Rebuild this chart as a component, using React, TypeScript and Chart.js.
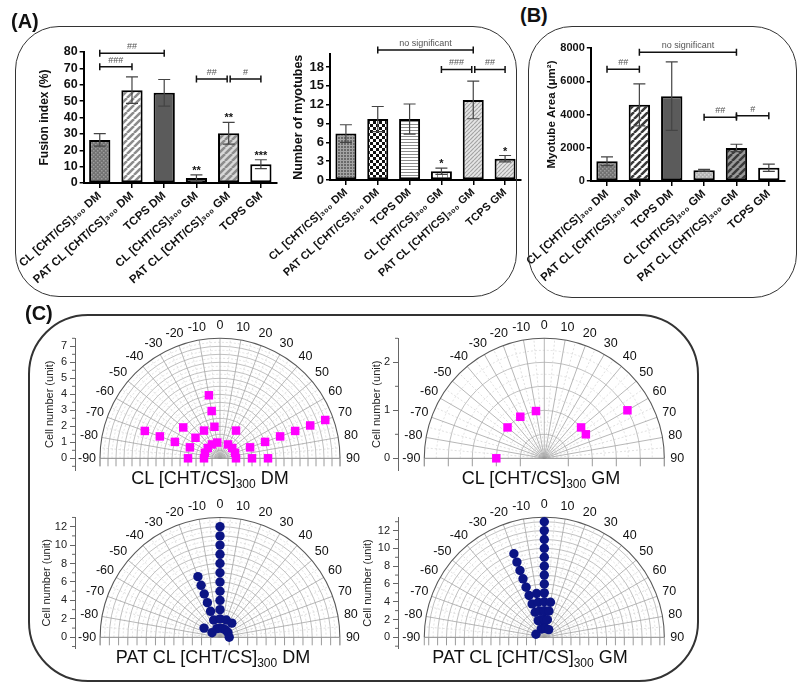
import React, { useEffect, useRef } from 'react';
import { Chart, registerables } from 'chart.js';

Chart.register(...registerables);

const FONT = "'Liberation Sans', Arial, Helvetica, sans-serif";
Chart.defaults.font.family = FONT;

// ---------------- Bar chart data ----------------
const groupLabels = [
  'CL [CHT/CS]₃₀₀ DM',
  'PAT CL [CHT/CS]₃₀₀ DM',
  'TCPS DM',
  'CL [CHT/CS]₃₀₀ GM',
  'PAT CL [CHT/CS]₃₀₀ GM',
  'TCPS GM',
];

const fusionIndexMean = [26.3, 56.7, 55.1, 3.0, 30.4, 11.5];
const fusionIndexError = [3.8, 8.1, 8.1, 2.0, 6.6, 2.7];
const fusionIndexStars = ['', '', '', '**', '**', '***'];
const fusionIndexAxis = [0, 80, 10];
const fusionIndexBrackets = [
  { from: 0, to: 2, value: 79.2, label: '##' },
  { from: 0, to: 1, value: 71, label: '###' },
  { from: 3, to: 4, value: 63.5, label: '##', endShift: -1.5 },
  { from: 4, to: 5, value: 63.5, label: '#', startShift: 1.5 },
];

const myotubeCountMean = [7.4, 9.7, 9.7, 1.4, 12.75, 3.4];
const myotubeCountError = [1.4, 2.0, 2.4, 0.5, 3.0, 0.5];
const myotubeCountStars = ['', '', '', '*', '', '*'];
const myotubeCountAxis = [0, 20, 3];
const myotubeCountBrackets = [
  { from: 1, to: 4, value: 20.7, label: 'no significant' },
  { from: 3, to: 4, value: 17.6, label: '###', endShift: -1.5 },
  { from: 4, to: 5, value: 17.6, label: '##', startShift: 1.5 },
];

const myotubeAreaMean = [1190, 4580, 5100, 645, 1990, 800];
const myotubeAreaError = [260, 1260, 2060, 60, 220, 220];
const myotubeAreaStars = ['', '', '', '', '', ''];
const myotubeAreaAxis = [0, 8000, 2000];
const myotubeAreaBrackets = [
  { from: 1, to: 4, value: 7740, label: 'no significant' },
  { from: 0, to: 1, value: 6720, label: '##' },
  { from: 3, to: 4, value: 3830, label: '##' },
  { from: 4, to: 5, value: 3930, label: '#' },
];

// ---------------- Polar dot-plot data (angle bin -> cell count) ----------------
const polarAngleTicks = [-90, -80, -70, -60, -50, -40, -30, -20, -10, 0, 10, 20, 30, 40, 50, 60, 70, 80, 90];

const clDmAngles = [-90, -70, -50, -30, -10, 30, 50, 70, 90];
const clDmCounts = [2, 5, 3, 2, 4, 2, 1, 7, 3];

const clGmAngles = [-90, -50, -30, -10, 50, 60];
const clGmCounts = [1, 1, 1, 1, 1, 2];

const patDmAngles = [-60, -20, 0, 20, 40, 60, 90];
const patDmCounts = [2, 7, 12, 2, 2, 1, 1];

const patGmAngles = [-70, -20, -10, 0, 10, 30];
const patGmCounts = [1, 10, 5, 13, 4, 1];

// ---------------- helpers ----------------
function makePattern(w: number, h: number, draw: (c: CanvasRenderingContext2D) => void) {
  const cv = document.createElement('canvas');
  cv.width = w;
  cv.height = h;
  const c = cv.getContext('2d') as CanvasRenderingContext2D;
  draw(c);
  return c.createPattern(cv, 'repeat') as CanvasPattern;
}
const dotFill = (bg: string, fg: string) =>
  makePattern(4, 4, (c) => {
    c.fillStyle = bg;
    c.fillRect(0, 0, 4, 4);
    c.fillStyle = fg;
    c.fillRect(0, 0, 1.5, 1.5);
    c.fillRect(2, 2, 1.5, 1.5);
  });
const stripeFill = (bg: string, fg: string, p: number, lw: number) =>
  makePattern(p, p, (c) => {
    c.fillStyle = bg;
    c.fillRect(0, 0, p, p);
    c.strokeStyle = fg;
    c.lineWidth = lw;
    c.beginPath();
    for (const o of [-p, 0, p]) {
      c.moveTo(o, p);
      c.lineTo(o + p, 0);
    }
    c.stroke();
  });
const hLineFill = (bg: string, fg: string, p: number) =>
  makePattern(p, p, (c) => {
    c.fillStyle = bg;
    c.fillRect(0, 0, p, p);
    c.fillStyle = fg;
    c.fillRect(0, 0, p, 1);
  });
const vLineFill = (bg: string, fg: string, p: number) =>
  makePattern(p, p, (c) => {
    c.fillStyle = bg;
    c.fillRect(0, 0, p, p);
    c.fillStyle = fg;
    c.fillRect(0, 0, 1, p);
  });
const checkFill = (a: string, b: string, cell: number) =>
  makePattern(cell * 2, cell * 2, (c) => {
    c.fillStyle = a;
    c.fillRect(0, 0, cell * 2, cell * 2);
    c.fillStyle = b;
    c.fillRect(0, 0, cell, cell);
    c.fillRect(cell, cell, cell, cell);
  });
const gridFill = (bg: string, fg: string, p: number) =>
  makePattern(p, p, (c) => {
    c.fillStyle = bg;
    c.fillRect(0, 0, p, p);
    c.fillStyle = fg;
    c.fillRect(0, 0, p, 1);
    c.fillRect(0, 0, 1, p);
  });

function createBarChart(canvas: HTMLCanvasElement, sp: any) {
  const H = sp.height;
  canvas.width = sp.width;
  canvas.height = H;
  canvas.style.width = `${sp.width}px`;
  canvas.style.height = `${sp.height}px`;
  const iy = (y: number) => y - sp.top;
  const padTop = iy(sp.areaTop);
  const xAxisH = H - iy(sp.areaBottom);
  const yAxisW = sp.areaLeft - sp.left;
  const padRight = sp.left + sp.width - sp.areaRight;
  const [yMin, yMax, yStep] = sp.axis;

  const anno = {
    id: 'barAnno',
    afterDatasetsDraw(chart: any) {
      const ctx = chart.ctx as CanvasRenderingContext2D;
      const ys = chart.scales.y;
      const meta = chart.getDatasetMeta(0);
      ctx.save();
      sp.values.forEach((v: number, i: number) => {
        const x = meta.data[i].x;
        const yT = ys.getPixelForValue(v + sp.errors[i]);
        const yB = ys.getPixelForValue(Math.max(0, v - sp.errors[i]));
        ctx.strokeStyle = '#444';
        ctx.lineWidth = 1.2;
        ctx.beginPath();
        ctx.moveTo(x, yT);
        ctx.lineTo(x, yB);
        ctx.moveTo(x - 6, yT);
        ctx.lineTo(x + 6, yT);
        ctx.moveTo(x - 6, yB);
        ctx.lineTo(x + 6, yB);
        ctx.stroke();
        if (sp.stars[i]) {
          ctx.fillStyle = '#111';
          ctx.font = `bold 11px ${FONT}`;
          ctx.textAlign = 'center';
          ctx.textBaseline = 'alphabetic';
          ctx.fillText(sp.stars[i], x, yT - 1);
        }
      });
      sp.brackets.forEach((b: any) => {
        const x1 = meta.data[b.from].x + (b.startShift || 0);
        const x2 = meta.data[b.to].x + (b.endShift || 0);
        const y = ys.getPixelForValue(b.value);
        const cap = 3.5;
        ctx.strokeStyle = '#111';
        ctx.lineWidth = 1.5;
        ctx.beginPath();
        ctx.moveTo(x1, y);
        ctx.lineTo(x2, y);
        ctx.moveTo(x1, y - cap);
        ctx.lineTo(x1, y + cap);
        ctx.moveTo(x2, y - cap);
        ctx.lineTo(x2, y + cap);
        ctx.stroke();
        ctx.fillStyle = '#555';
        ctx.font = `9px ${FONT}`;
        ctx.textAlign = 'center';
        ctx.textBaseline = 'bottom';
        ctx.fillText(b.label, (x1 + x2) / 2, y - 2);
      });
      ctx.restore();
    },
  };

  return new Chart(canvas, {
    type: 'bar',
    data: {
      labels: groupLabels,
      datasets: [
        {
          data: sp.values,
          backgroundColor: sp.fills,
          borderColor: '#000',
          borderWidth: 2,
          borderSkipped: false,
          barPercentage: 0.66,
          categoryPercentage: 1,
        },
      ],
    },
    options: {
      animation: false,
      responsive: false,
      devicePixelRatio: 1,
      layout: { padding: { top: padTop, right: padRight, left: 0, bottom: 0 }, autoPadding: false },
      plugins: { legend: { display: false }, tooltip: { enabled: false } },
      scales: {
        x: {
          grid: { display: true, drawOnChartArea: false, offset: false, tickLength: 5, color: '#000', lineWidth: 1.5 },
          border: { color: '#000', width: 2 },
          ticks: {
            autoSkip: false,
            maxRotation: 42,
            minRotation: 42,
            font: { size: sp.xTickSize, weight: 'bold' },
            color: '#111',
            padding: 1,
          },
          afterFit: (sc: any) => {
            sc.height = xAxisH;
          },
        },
        y: {
          min: yMin,
          max: yMax,
          grid: { drawOnChartArea: false, tickLength: 4, color: '#000', lineWidth: 1.5 },
          border: { color: '#000', width: 2 },
          ticks: {
            autoSkip: false,
            stepSize: yStep,
            font: { size: sp.yTickSize, weight: 'bold' },
            color: '#111',
            padding: 2,
            callback: (v: any) => String(v),
          },
          afterBuildTicks: (sc: any) => {
            const t = [];
            for (let v = yMin; v <= yMax + 1e-9; v += yStep) t.push({ value: v });
            sc.ticks = t;
          },
          title: {
            display: true,
            text: sp.yTitle,
            font: { size: sp.yTitleSize, weight: 'bold' },
            color: '#111',
            padding: { top: sp.yTitlePad, bottom: 0 },
          },
          afterFit: (sc: any) => {
            sc.width = yAxisW;
          },
        },
      },
    },
    plugins: [anno],
  } as any);
}

function polarGridPlugin(sp: any) {
  return {
    id: 'polarGrid',
    beforeDatasetsDraw(chart: any) {
      const ctx = chart.ctx as CanvasRenderingContext2D;
      const xs = chart.scales.x;
      const ys = chart.scales.y;
      const cx = xs.getPixelForValue(0);
      const cy = ys.getPixelForValue(0);
      const kx = xs.getPixelForValue(1) - cx;
      const ky = cy - ys.getPixelForValue(1);
      const R = sp.R;
      const rad = (d: number) => (d * Math.PI) / 180;
      ctx.save();
      // rings
      const n = Math.round(R / sp.ringMinor);
      for (let i = 1; i <= n; i++) {
        const r = i * sp.ringMinor;
        if (r >= R - 1e-6) break;
        const major = Math.abs(r / sp.ringMajor - Math.round(r / sp.ringMajor)) < 1e-6;
        ctx.setLineDash(major ? [] : [2, 2]);
        ctx.strokeStyle = major ? '#b0b0b0' : '#d6d6d6';
        ctx.lineWidth = major ? 0.8 : 0.7;
        ctx.beginPath();
        ctx.ellipse(cx, cy, r * kx, r * ky, 0, Math.PI, 2 * Math.PI);
        ctx.stroke();
      }
      // spokes
      ctx.setLineDash([2, 2]);
      ctx.strokeStyle = '#d2d2d2';
      ctx.lineWidth = 0.7;
      for (let a = -85; a <= 85; a += 10) {
        ctx.beginPath();
        ctx.moveTo(cx, cy);
        ctx.lineTo(cx + R * kx * Math.sin(rad(a)), cy - R * ky * Math.cos(rad(a)));
        ctx.stroke();
      }
      ctx.setLineDash([]);
      ctx.strokeStyle = '#a4a4a4';
      ctx.lineWidth = 0.8;
      for (let a = -80; a <= 80; a += 10) {
        ctx.beginPath();
        ctx.moveTo(cx, cy);
        ctx.lineTo(cx + R * kx * Math.sin(rad(a)), cy - R * ky * Math.cos(rad(a)));
        ctx.stroke();
      }
      // baseline
      ctx.strokeStyle = '#8a8a8a';
      ctx.lineWidth = 1;
      ctx.beginPath();
      ctx.moveTo(cx - R * kx, cy);
      ctx.lineTo(cx + R * kx, cy);
      ctx.stroke();
      // baseline ticks
      ctx.strokeStyle = '#9a9a9a';
      const nm = Math.floor(R / sp.ringMajor + 1e-6);
      const tickR = [];
      for (let i = 1; i <= nm; i++) tickR.push(i * sp.ringMajor);
      tickR.push(R);
      ctx.beginPath();
      tickR.forEach((r) => {
        ctx.moveTo(cx - r * kx, cy);
        ctx.lineTo(cx - r * kx, cy + 8);
        ctx.moveTo(cx + r * kx, cy);
        ctx.lineTo(cx + r * kx, cy + 8);
      });
      ctx.stroke();
      // outer arc
      ctx.strokeStyle = '#5a5a5a';
      ctx.lineWidth = 1.1;
      ctx.beginPath();
      ctx.ellipse(cx, cy, R * kx, R * ky, 0, Math.PI, 2 * Math.PI);
      ctx.stroke();
      // angle labels
      ctx.fillStyle = '#111';
      ctx.font = `12.5px ${FONT}`;
      ctx.textAlign = 'center';
      ctx.textBaseline = 'middle';
      polarAngleTicks.forEach((a) => {
        const x = cx + (R * kx + 13) * Math.sin(rad(a));
        const y = cy - (R * ky + 13) * Math.cos(rad(a));
        ctx.fillText(String(a), x, y);
      });
      // minor ticks on radial axis
      const ax = chart.chartArea.left;
      ctx.strokeStyle = '#666';
      ctx.lineWidth = 1;
      ctx.beginPath();
      for (let i = Math.ceil(sp.yMin / sp.yMinor); i * sp.yMinor <= R + 1e-6; i++) {
        const v = i * sp.yMinor;
        if (v >= 0 && Math.abs(v / sp.yStep - Math.round(v / sp.yStep)) < 1e-6) continue;
        const y = ys.getPixelForValue(v);
        ctx.moveTo(ax - 3, y);
        ctx.lineTo(ax, y);
      }
      ctx.stroke();
      ctx.restore();
    },
  };
}

function createPolarChart(canvas: HTMLCanvasElement, sp: any) {
  canvas.width = sp.width;
  canvas.height = sp.height;
  canvas.style.width = `${sp.width}px`;
  canvas.style.height = `${sp.height}px`;
  const areaLeft = sp.axisX;
  const areaRight = sp.left + sp.width - 5;
  const areaTop = sp.cy - sp.R * sp.k;
  const areaBottom = sp.cy - sp.yMin * sp.k;
  const pts: { x: number; y: number }[] = [];
  sp.angles.forEach((a: number, i: number) => {
    for (let r = 1; r <= sp.counts[i]; r++) {
      pts.push({ x: r * Math.sin((a * Math.PI) / 180), y: r * Math.cos((a * Math.PI) / 180) });
    }
  });
  return new Chart(canvas, {
    type: 'scatter',
    data: {
      datasets: [
        {
          data: pts,
          pointStyle: sp.marker,
          pointRadius: sp.markerRadius,
          pointHoverRadius: sp.markerRadius,
          backgroundColor: sp.color,
          borderColor: sp.color,
          borderWidth: 0,
          clip: false,
        },
      ],
    },
    options: {
      animation: false,
      responsive: false,
      devicePixelRatio: 1,
      layout: {
        padding: {
          top: areaTop - sp.top,
          right: sp.left + sp.width - areaRight,
          bottom: sp.top + sp.height - areaBottom,
          left: 0,
        },
        autoPadding: false,
      },
      plugins: { legend: { display: false }, tooltip: { enabled: false } },
      scales: {
        x: {
          type: 'linear',
          display: false,
          min: (areaLeft - sp.cx) / sp.k,
          max: (areaRight - sp.cx) / sp.k,
        },
        y: {
          type: 'linear',
          position: 'left',
          min: sp.yMin,
          max: sp.R,
          afterBuildTicks: (sc: any) => {
            const t = [];
            for (let v = 0; v <= sp.R + 1e-9; v += sp.yStep) t.push({ value: v });
            sc.ticks = t;
          },
          ticks: { autoSkip: false, font: { size: 11 }, color: '#222', padding: 3 },
          grid: { drawOnChartArea: false, tickLength: 5, color: '#666', lineWidth: 1 },
          border: { color: '#666', width: 1 },
          title: {
            display: true,
            text: 'Cell number (unit)',
            font: { size: 11 },
            color: '#222',
            padding: { top: sp.titlePad, bottom: 0 },
          },
          afterFit: (sc: any) => {
            sc.width = areaLeft - sp.left;
          },
        },
      },
    },
    plugins: [polarGridPlugin(sp)],
  } as any);
}

const polarTitles = [
  { pre: 'CL [CHT/CS]', post: ' DM', cx: 210, base: 484 },
  { pre: 'CL [CHT/CS]', post: ' GM', cx: 541, base: 484 },
  { pre: 'PAT CL [CHT/CS]', post: ' DM', cx: 213, base: 663 },
  { pre: 'PAT CL [CHT/CS]', post: ' GM', cx: 530, base: 663 },
];

export default function App() {
  const a1 = useRef<HTMLCanvasElement>(null);
  const a2 = useRef<HTMLCanvasElement>(null);
  const b1 = useRef<HTMLCanvasElement>(null);
  const p1 = useRef<HTMLCanvasElement>(null);
  const p2 = useRef<HTMLCanvasElement>(null);
  const p3 = useRef<HTMLCanvasElement>(null);
  const p4 = useRef<HTMLCanvasElement>(null);

  useEffect(() => {
    const charts: Chart[] = [];
    const fusionFills = [
      dotFill('#727272', '#9c9c9c'),
      stripeFill('#ffffff', '#8c8c8c', 7, 2.5),
      '#5b5b5b',
      dotFill('#b4b4b4', '#d6d6d6'),
      stripeFill('#d9d9d9', '#8c8c8c', 7, 2.5),
      '#ffffff',
    ];
    const countFills = [
      gridFill('#6a6a6a', '#a4a4a4', 3),
      checkFill('#ffffff', '#111111', 3),
      hLineFill('#ffffff', '#8c8c8c', 3),
      vLineFill('#ffffff', '#8c8c8c', 5),
      stripeFill('#e6e6e6', '#a4a4a4', 4, 1.2),
      stripeFill('#e6e6e6', '#a4a4a4', 4, 1.2),
    ];
    const areaFills = [
      dotFill('#727272', '#9c9c9c'),
      stripeFill('#ffffff', '#3a3a3a', 7, 2.5),
      '#5b5b5b',
      dotFill('#b4b4b4', '#d6d6d6'),
      stripeFill('#9a9a9a', '#3a3a3a', 7, 2.5),
      '#ffffff',
    ];
    charts.push(
      createBarChart(a1.current as HTMLCanvasElement, {
        left: 15, top: 28, width: 265, height: 268,
        areaLeft: 77, areaRight: 277, areaTop: 52, areaBottom: 183,
        values: fusionIndexMean, errors: fusionIndexError, stars: fusionIndexStars,
        brackets: fusionIndexBrackets, axis: fusionIndexAxis, fills: fusionFills,
        yTitle: 'Fusion index (%)', yTitleSize: 12, yTitlePad: 15.8, yTickSize: 12.5, xTickSize: 11.5,
      })
    );
    charts.push(
      createBarChart(a2.current as HTMLCanvasElement, {
        left: 262, top: 28, width: 260, height: 268,
        areaLeft: 330, areaRight: 521, areaTop: 54.4, areaBottom: 180,
        values: myotubeCountMean, errors: myotubeCountError, stars: myotubeCountStars,
        brackets: myotubeCountBrackets, axis: myotubeCountAxis, fills: countFills,
        yTitle: 'Number of myotubes', yTitleSize: 12.5, yTitlePad: 29.5, yTickSize: 13, xTickSize: 11,
      })
    );
    charts.push(
      createBarChart(b1.current as HTMLCanvasElement, {
        left: 522, top: 28, width: 270, height: 268,
        areaLeft: 587, areaRight: 785, areaTop: 48, areaBottom: 181,
        values: myotubeAreaMean, errors: myotubeAreaError, stars: myotubeAreaStars,
        brackets: myotubeAreaBrackets, axis: myotubeAreaAxis, fills: areaFills,
        yTitle: 'Myotube Area (μm²)', yTitleSize: 11.5, yTitlePad: 19.1, yTickSize: 11, xTickSize: 11.5,
      })
    );
    const magenta = { marker: 'rect', markerRadius: 6, color: '#ff00ff' };
    const navy = { marker: 'circle', markerRadius: 4.7, color: '#0b1484' };
    charts.push(
      createPolarChart(p1.current as HTMLCanvasElement, {
        left: 30, top: 315, width: 350, height: 185, axisX: 75, cx: 220, cy: 458.3, k: 16,
        R: 7.5, yMin: -0.75, yStep: 1, yMinor: 0.5, ringMajor: 0.5, ringMinor: 0.25, titlePad: 13.4,
        angles: clDmAngles, counts: clDmCounts, ...magenta,
      })
    );
    charts.push(
      createPolarChart(p2.current as HTMLCanvasElement, {
        left: 355, top: 315, width: 340, height: 185, axisX: 398, cx: 544.3, cy: 458.3, k: 48,
        R: 2.5, yMin: -0.25, yStep: 1, yMinor: 0.5, ringMajor: 0.5, ringMinor: 0.25, titlePad: 15.4,
        angles: clGmAngles, counts: clGmCounts, ...magenta,
      })
    );
    charts.push(
      createPolarChart(p3.current as HTMLCanvasElement, {
        left: 30, top: 495, width: 350, height: 185, axisX: 75, cx: 220, cy: 637.3, k: 9.22,
        R: 13, yMin: -1.2, yStep: 2, yMinor: 1, ringMajor: 1, ringMinor: 0.5, titlePad: 10.4,
        angles: patDmAngles, counts: patDmCounts, ...navy,
      })
    );
    charts.push(
      createPolarChart(p4.current as HTMLCanvasElement, {
        left: 355, top: 495, width: 340, height: 185, axisX: 398, cx: 544.3, cy: 637.3, k: 8.89,
        R: 13.5, yMin: -1.3, yStep: 2, yMinor: 1, ringMajor: 1, ringMinor: 0.5, titlePad: 6.4,
        angles: patGmAngles, counts: patGmCounts, ...navy,
      })
    );
    return () => charts.forEach((c) => c.destroy());
  }, []);

  const cv = (ref: any, left: number, top: number) => (
    <canvas ref={ref} style={{ position: 'absolute', left, top }} />
  );
  const box = (left: number, top: number, w: number, h: number, r: number, bw: number) => (
    <div
      style={{
        position: 'absolute', left, top, width: w, height: h, boxSizing: 'border-box',
        border: `${bw}px solid #333`, borderRadius: r, pointerEvents: 'none',
      }}
    />
  );
  const panelLabel = (text: string, left: number, top: number) => (
    <div style={{ position: 'absolute', left, top, font: `bold 20px ${FONT}`, lineHeight: '22px', color: '#111' }}>
      {text}
    </div>
  );

  return (
    <div
      style={{
        position: 'absolute', left: 0, top: 0, width: 800, height: 694, background: '#fff',
        overflow: 'hidden', fontFamily: FONT,
      }}
    >
      {cv(a1, 15, 28)}
      {cv(a2, 262, 28)}
      {cv(b1, 522, 28)}
      {cv(p1, 30, 315)}
      {cv(p2, 355, 315)}
      {cv(p3, 30, 495)}
      {cv(p4, 355, 495)}
      {box(15, 26, 502, 271, 44, 1.5)}
      {box(528, 26, 269, 272, 44, 1.5)}
      {box(28, 314, 671, 368, 60, 2)}
      {panelLabel('(A)', 11, 10)}
      {panelLabel('(B)', 520, 4)}
      {panelLabel('(C)', 25, 302)}
      {polarTitles.map((t, i) => (
        <div
          key={i}
          style={{
            position: 'absolute', left: t.cx - 150, width: 300, top: t.base - 15, textAlign: 'center',
            font: `18px ${FONT}`, lineHeight: '18px', whiteSpace: 'nowrap', color: '#111',
          }}
        >
          {t.pre}
          <span style={{ fontSize: 12, position: 'relative', top: 4 }}>300</span>
          {t.post}
        </div>
      ))}
    </div>
  );
}
